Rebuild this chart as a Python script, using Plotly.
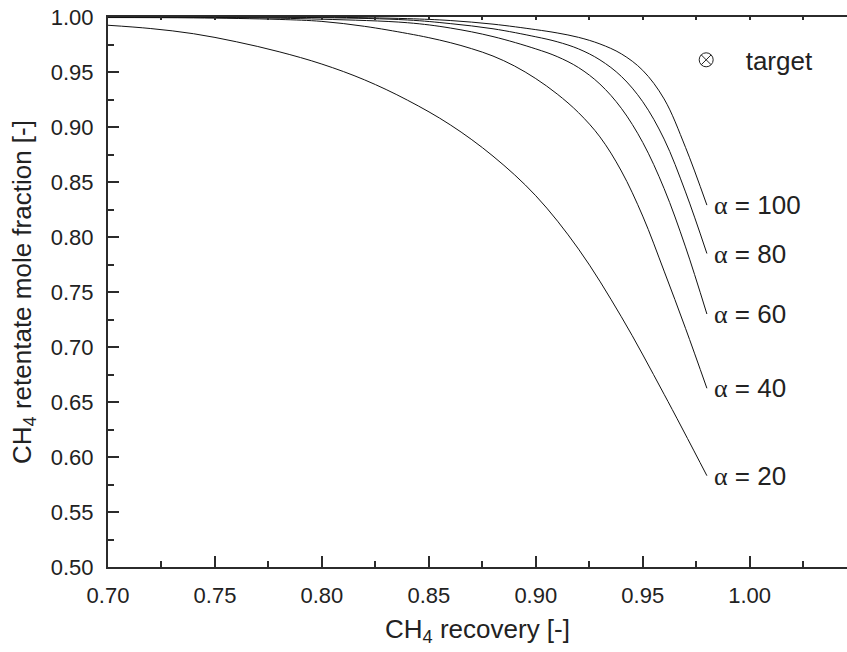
import plotly.graph_objects as go

# ---- data ----
alphas = [100, 80, 60, 40, 20]

rec_100 = [0.70, 0.80, 0.84, 0.86, 0.88, 0.90, 0.91, 0.92, 0.93, 0.94, 0.95, 0.96, 0.97, 0.98]
pur_100 = [1.000, 0.9998, 0.9985, 0.9968, 0.9935, 0.9885, 0.9855, 0.9815, 0.9755, 0.9665, 0.9515, 0.9255, 0.8815, 0.829]

rec_80 = [0.70, 0.80, 0.84, 0.86, 0.88, 0.90, 0.91, 0.92, 0.93, 0.94, 0.95, 0.96, 0.97, 0.98]
pur_80 = [1.000, 0.9994, 0.9973, 0.994, 0.9893, 0.982, 0.9775, 0.971, 0.961, 0.946, 0.923, 0.889, 0.841, 0.785]

rec_60 = [0.70, 0.76, 0.80, 0.84, 0.86, 0.88, 0.90, 0.91, 0.92, 0.93, 0.94, 0.95, 0.96, 0.97, 0.98]
pur_60 = [0.9999, 0.9994, 0.998, 0.9948, 0.990, 0.9822, 0.971, 0.964, 0.954, 0.939, 0.917, 0.886, 0.844, 0.791, 0.730]

rec_40 = [0.70, 0.74, 0.78, 0.80, 0.82, 0.84, 0.85, 0.86, 0.87, 0.88, 0.89, 0.90, 0.91, 0.92, 0.93, 0.94, 0.95, 0.96, 0.97, 0.98]
pur_40 = [0.9995, 0.9992, 0.9978, 0.996, 0.9915, 0.985, 0.9812, 0.9767, 0.9712, 0.9645, 0.9555, 0.944, 0.930, 0.913, 0.891, 0.860, 0.819, 0.769, 0.717, 0.6625]

rec_20 = [0.70, 0.72, 0.74, 0.76, 0.78, 0.80, 0.82, 0.84, 0.86, 0.88, 0.90, 0.92, 0.94, 0.96, 0.98]
pur_20 = [0.9925, 0.9895, 0.9848, 0.9775, 0.9684, 0.9572, 0.9428, 0.9244, 0.9020, 0.8735, 0.8375, 0.7890, 0.7275, 0.6570, 0.5830]

series = {
    100: (rec_100, pur_100),
    80: (rec_80, pur_80),
    60: (rec_60, pur_60),
    40: (rec_40, pur_40),
    20: (rec_20, pur_20),
}

FONT = "Arial, Liberation Sans, Helvetica, sans-serif"
AX = "#2b2b2b"
TXT = "#222222"

fig = go.Figure()
for a in alphas:
    xs, ys = series[a]
    fig.add_trace(go.Scatter(x=xs, y=ys, mode="lines",
                             line=dict(color="#111111", width=1, shape="spline", smoothing=1.0),
                             showlegend=False, hoverinfo="skip"))
    fig.add_annotation(x=xs[-1], y=ys[-1], xref="x", yref="y",
                       text=f"<span style='font-family:Liberation Serif, Times New Roman, serif'>α</span> = {a}",
                       showarrow=False, xanchor="left", yanchor="middle", xshift=5,
                       font=dict(family=FONT, size=26, color=TXT))

fig.add_trace(go.Scatter(x=[None], y=[None], mode="markers", name="target",
                         marker=dict(symbol="circle-x-open", size=14, color=TXT,
                                     line=dict(width=1, color=TXT))))

fig.add_trace(go.Scatter(x=[None], y=[None], xaxis="x2", showlegend=False, hoverinfo="skip"))

fig.update_layout(
    width=847, height=652,
    margin=dict(l=108, r=0, t=17, b=85),
    paper_bgcolor="white", plot_bgcolor="white",
    font=dict(family=FONT, color=TXT),
    legend=dict(x=0.756, y=0.922, xanchor="left", yanchor="middle",
                bgcolor="rgba(0,0,0,0)", font=dict(family=FONT, size=26, color=TXT),
                itemwidth=69),
    xaxis=dict(range=[0.70, 1.0455], tick0=0.70, dtick=0.05, tickformat=".2f",
               ticks="inside", ticklen=11, tickwidth=2, tickcolor=AX,
               minor=dict(dtick=0.025, ticks="inside", ticklen=6, tickwidth=2, tickcolor=AX),
               showline=True, linewidth=2, linecolor=AX, showgrid=False, zeroline=False,
               tickfont=dict(size=22, family=FONT, color=TXT), ticklabelstandoff=8,
               title=dict(text="CH<sub>4</sub> recovery [-]", font=dict(size=26, family=FONT, color=TXT),
                          standoff=12)),
    xaxis2=dict(range=[0.70, 1.0455], overlaying="x", side="top", tick0=0.70, dtick=0.025,
                ticks="inside", ticklen=3, tickwidth=2, tickcolor=AX, showticklabels=False,
                showline=True, linewidth=2, linecolor=AX, showgrid=False, zeroline=False),
    yaxis=dict(range=[0.50, 1.00], tick0=0.50, dtick=0.05, tickformat=".2f",
               ticks="inside", ticklen=11, tickwidth=2, tickcolor=AX,
               minor=dict(dtick=0.025, ticks="inside", ticklen=6, tickwidth=2, tickcolor=AX),
               showline=True, linewidth=2, linecolor=AX, showgrid=False, zeroline=False,
               tickfont=dict(size=22, family=FONT, color=TXT), ticklabelstandoff=8,
               title=dict(text="CH<sub>4</sub> retentate mole fraction [-]",
                          font=dict(size=26, family=FONT, color=TXT), standoff=12)),
)

fig.write_html("out.html")
